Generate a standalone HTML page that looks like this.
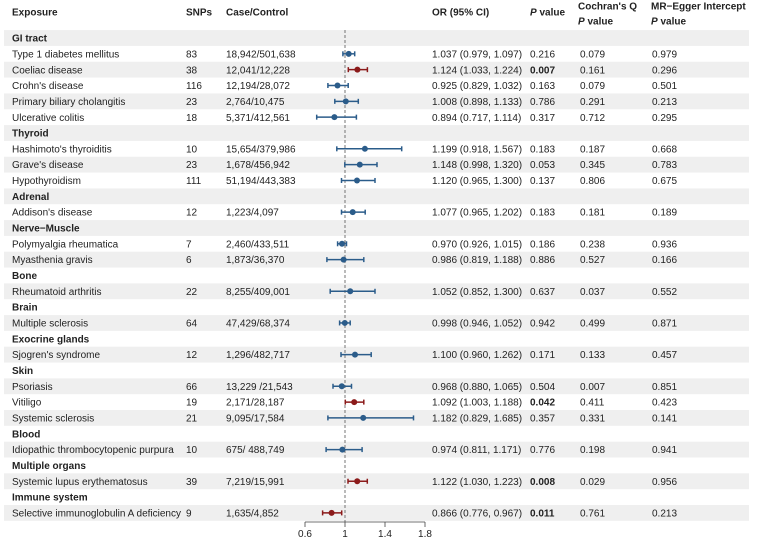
<!DOCTYPE html>
<html><head><meta charset="utf-8"><style>
body{margin:0;background:#fff}
svg{display:block;font-family:"Liberation Sans",Arial,sans-serif;font-size:10px;fill:#222}
.b{font-weight:bold}
</style></head><body>
<svg id="c" width="757" height="539"></svg>
<script>
const rowLabels=["GI tract","Type 1 diabetes mellitus","Coeliac disease","Crohn's disease","Primary biliary cholangitis","Ulcerative colitis","Thyroid","Hashimoto's thyroiditis","Grave's disease","Hypothyroidism","Adrenal","Addison's disease","Nerve\u2212Muscle","Polymyalgia rheumatica","Myasthenia gravis","Bone","Rheumatoid arthritis","Brain","Multiple sclerosis","Exocrine glands","Sjogren's syndrome","Skin","Psoriasis","Vitiligo","Systemic sclerosis","Blood","Idiopathic thrombocytopenic purpura","Multiple organs","Systemic lupus erythematosus","Immune system","Selective immunoglobulin A deficiency"];
const isGroup=[1,0,0,0,0,0,1,0,0,0,1,0,1,0,0,1,0,1,0,1,0,1,0,0,0,1,0,1,0,1,0];
const snps=["","83","38","116","23","18","","10","23","111","","12","","7","6","","22","","64","","12","","66","19","21","","10","","39","","9"];
const cases=["","18,942/501,638","12,041/12,228","12,194/28,072","2,764/10,475","5,371/412,561","","15,654/379,986","1,678/456,942","51,194/443,383","","1,223/4,097","","2,460/433,511","1,873/36,370","","8,255/409,001","","47,429/68,374","","1,296/482,717","","13,229 /21,543","2,171/28,187","9,095/17,584","","675/ 488,749","","7,219/15,991","","1,635/4,852"];
const orVal=[null,1.037,1.124,0.925,1.008,0.894,null,1.199,1.148,1.120,null,1.077,null,0.970,0.986,null,1.052,null,0.998,null,1.100,null,0.968,1.092,1.182,null,0.974,null,1.122,null,0.866];
const lo=[null,0.979,1.033,0.829,0.898,0.717,null,0.918,0.998,0.965,null,0.965,null,0.926,0.819,null,0.852,null,0.946,null,0.960,null,0.880,1.003,0.829,null,0.811,null,1.030,null,0.776];
const hi=[null,1.097,1.224,1.032,1.133,1.114,null,1.567,1.320,1.300,null,1.202,null,1.015,1.188,null,1.300,null,1.052,null,1.262,null,1.065,1.188,1.685,null,1.171,null,1.223,null,0.967];
const pv=["","0.216","0.007","0.163","0.786","0.317","","0.183","0.053","0.137","","0.183","","0.186","0.886","","0.637","","0.942","","0.171","","0.504","0.042","0.357","","0.776","","0.008","","0.011"];
const qv=["","0.079","0.161","0.079","0.291","0.712","","0.187","0.345","0.806","","0.181","","0.238","0.527","","0.037","","0.499","","0.133","","0.007","0.411","0.331","","0.198","","0.029","","0.761"];
const ev=["","0.979","0.296","0.501","0.213","0.295","","0.668","0.783","0.675","","0.189","","0.936","0.166","","0.552","","0.871","","0.457","","0.851","0.423","0.141","","0.941","","0.956","","0.213"];
const ticks=[0.6,1,1.4,1.8];
const svg=document.getElementById('c');const NS="http://www.w3.org/2000/svg";
function mk(t,a,p){const e=document.createElementNS(NS,t);for(const k in a)e.setAttribute(k,a[k]);(p||svg).appendChild(e);return e;}
const X=v=>345+(v-1)*100;const Y=i=>38+i*15.83;
function tx(x,y,s,cls,name){const e=mk('text',{x:x,y:y+3.6,class:cls||''});e.textContent=s;return e;}
rowLabels.forEach((l,i)=>{if(i%2==0){const r=mk('rect',{x:4,y:Y(i)-7.9,width:745,height:15.83,fill:'#efefef'});}});
tx(12,12,"Exposure","b","header-exposure");tx(186,12,"SNPs","b","header-snps");tx(226,12,"Case/Control","b","header-case-control");
tx(432,12,"OR (95% CI)","b","header-or");
let h=tx(530,12,"","b","header-p");h.innerHTML='<tspan font-style="italic">P</tspan> value';
tx(578,6,"Cochran's Q","b","header-q");h=tx(578,21,"","b","header-q-p");h.innerHTML='<tspan font-style="italic">P</tspan> value';
tx(651,6,"MR\u2212Egger Intercept","b","header-egger");h=tx(651,21,"","b","header-egger-p");h.innerHTML='<tspan font-style="italic">P</tspan> value';
const rl=mk('line',{x1:X(1),x2:X(1),y1:Y(0)-8,y2:522,stroke:'#555','stroke-dasharray':'3,2','stroke-width':0.8});

rowLabels.forEach((l,i)=>{const y=Y(i);
 tx(12,y,l,isGroup[i]?"b":"",isGroup[i]?"group-label":"exposure-label");
 if(isGroup[i])return;
 tx(186,y,snps[i],"","snps-value");tx(226,y,cases[i],"","case-control-value");
 tx(432,y,orVal[i].toFixed(3)+" ("+lo[i].toFixed(3)+", "+hi[i].toFixed(3)+")","","or-value");
 const sig=parseFloat(pv[i])<0.05;
 tx(530,y,pv[i],sig?"b":"","p-value");tx(580,y,qv[i],"","q-value");tx(652,y,ev[i],"","egger-value");
 const col=sig?'#8b1a1a':'#2b5c8a';
 const g=mk('g',{stroke:col,'stroke-width':1.5});
 mk('line',{x1:X(lo[i]),x2:X(hi[i]),y1:y,y2:y},g);
 mk('line',{x1:X(lo[i]),x2:X(lo[i]),y1:y-2.5,y2:y+2.5},g);
 mk('line',{x1:X(hi[i]),x2:X(hi[i]),y1:y-2.5,y2:y+2.5},g);
 mk('circle',{cx:X(orVal[i]),cy:y,r:3,fill:col,stroke:'none'},g);
});
const ax=mk('g',{stroke:'#444','stroke-width':0.8});
mk('line',{x1:X(ticks[0]),x2:X(ticks[ticks.length-1]),y1:522,y2:522},ax);
ticks.forEach(t=>{mk('line',{x1:X(t),x2:X(t),y1:522,y2:527},ax);const e=mk('text',{x:X(t),y:537,'text-anchor':'middle'});e.textContent=String(t);});
</script>
</body></html>
